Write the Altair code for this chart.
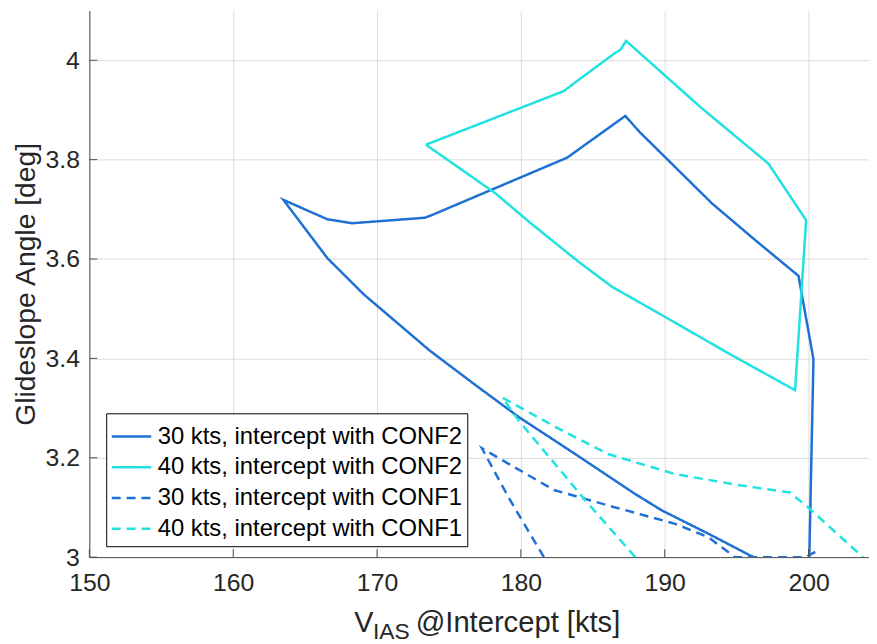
import altair as alt
import pandas as pd

series_names = [
    "30 kts, intercept with CONF2",
    "40 kts, intercept with CONF2",
    "30 kts, intercept with CONF1",
    "40 kts, intercept with CONF1",
]

# 30 kts, CONF2 (solid blue)
s1_x = [196.16, 193.04, 189.8, 187.95, 183.8, 179.9, 176.9, 173.65, 169.07, 166.54, 163.49,
        166.54, 168.26, 173.31, 173.78, 183.22, 187.26, 188.24, 193.28, 196.29, 199.30, 200.34, 200.05]
s1_y = [3.000, 3.047, 3.094, 3.127, 3.207, 3.281, 3.345, 3.416, 3.529, 3.602, 3.719,
        3.680, 3.672, 3.683, 3.688, 3.804, 3.888, 3.856, 3.712, 3.638, 3.566, 3.398, 3.000]

# 40 kts, CONF2 (solid cyan)
s2_x = [173.4, 182.99, 183.8, 186.57, 186.92, 187.31, 192.59, 197.21, 199.83, 199.06,
        196.75, 194.44, 189.81, 186.34, 184.03, 180.56, 178.24, 173.4]
s2_y = [3.830, 3.938, 3.956, 4.015, 4.021, 4.039, 3.903, 3.792, 3.678, 3.336,
        3.373, 3.410, 3.487, 3.544, 3.594, 3.675, 3.732, 3.830]

# 30 kts, CONF1 (dashed blue)
s3_x = [181.6, 179.18, 177.29, 182.3, 186.57, 190.73, 193.04, 194.88, 199.81, 200.74]
s3_y = [3.000, 3.118, 3.219, 3.135, 3.100, 3.067, 3.040, 3.000, 3.000, 3.015]

# 40 kts, CONF1 (dashed cyan)
s4_x = [187.95, 184.49, 179.87, 178.71, 183.1, 186.11, 190.73, 195.35, 198.70, 199.97, 203.78]
s4_y = [3.000, 3.114, 3.274, 3.321, 3.251, 3.207, 3.167, 3.144, 3.130, 3.100, 3.000]

x_ticks = [150, 160, 170, 180, 190, 200]
y_ticks = [3.0, 3.2, 3.4, 3.6, 3.8, 4.0]

colors = ["#1F70D4", "#20E2E0", "#1F70D4", "#20E2E0"]
dashes = [[1, 0], [1, 0], [9, 6], [9, 6]]

rows = []
for name, xs, ys in zip(series_names, [s1_x, s2_x, s3_x, s4_x], [s1_y, s2_y, s3_y, s4_y]):
    for i, (xv, yv) in enumerate(zip(xs, ys)):
        rows.append({"series": name, "x": xv, "y": yv, "order": i})
df = pd.DataFrame(rows)

W, H = 786, 551
FONT = "Liberation Sans"
TXT = "#262626"
AXC = "#4d4d4d"

xscale = alt.Scale(domain=[150, 204.2], nice=False, zero=False)
yscale = alt.Scale(domain=[3, 4.1], nice=False, zero=False)

lines = alt.Chart(df).mark_line(strokeWidth=2.5, clip=True).encode(
    x=alt.X("x:Q", scale=xscale,
            axis=alt.Axis(values=x_ticks, format="d", title=None, grid=True,
                          gridColor="#dcdcdc", ticks=False, labelFlush=False,
                          labelOverlap=False, labelPadding=14, labelFontSize=25,
                          labelFont=FONT, labelColor=TXT, domainColor=AXC)),
    y=alt.Y("y:Q", scale=yscale,
            axis=alt.Axis(values=y_ticks, format="~g", title="Glideslope Angle [deg]",
                          grid=True, gridColor="#dcdcdc", ticks=False, labelFlush=False,
                          labelOverlap=False, labelPadding=10, labelFontSize=25,
                          labelFont=FONT, labelColor=TXT, domainColor=AXC,
                          titleFont=FONT, titleFontSize=28.5, titleFontWeight="normal",
                          titleColor=TXT, titleX=-64, titleY=H / 2, titleAngle=270,
                          titleAlign="center", titleBaseline="middle")),
    color=alt.Color("series:N", sort=series_names,
                    scale=alt.Scale(domain=series_names, range=colors),
                    legend=alt.Legend(title=None)),
    strokeDash=alt.StrokeDash("series:N", sort=series_names,
                              scale=alt.Scale(domain=series_names, range=dashes),
                              legend=alt.Legend(title=None)),
    order="order:Q",
)

xt = alt.Chart(pd.DataFrame({"t": x_ticks})).mark_rule(color=AXC, strokeWidth=1).encode(
    x=alt.X("t:Q", scale=xscale), y=alt.value(H), y2=alt.value(H - 8))
yt = alt.Chart(pd.DataFrame({"t": y_ticks})).mark_rule(color=AXC, strokeWidth=1).encode(
    y=alt.Y("t:Q", scale=yscale), x=alt.value(0), x2=alt.value(8))

def txt(s, x, y, size):
    return alt.Chart(pd.DataFrame({"s": [s]})).mark_text(
        align="left", baseline="alphabetic", font=FONT, fontSize=size, color=TXT
    ).encode(text="s:N", x=alt.value(x), y=alt.value(y))

title_v = txt("V", 267, 626, 29)
title_sub = txt("IAS", 286, 634, 23)
title_rest = txt("@Intercept [kts]", 329, 626, 29.4)

chart = alt.layer(lines, xt, yt, title_v, title_sub, title_rest).properties(
    width=W, height=H,
    padding={"left": 82, "top": 0, "right": 0, "bottom": 85},
    autosize=alt.AutoSizeParams(type="none"),
).configure_view(stroke=None).configure_legend(
    orient="none", legendX=17, legendY=406, padding=5,
    strokeColor="black", fillColor="white", cornerRadius=0,
    symbolType="M-1.17,0H1.17", symbolSize=1160, symbolStrokeWidth=2.5,
    symbolOffset=2,
    labelFontSize=24, labelFont=FONT, labelColor="black", labelOffset=8,
    rowPadding=0, labelLimit=0,
)

chart.save("out.html", embed_options={"renderer": "svg", "actions": False})
